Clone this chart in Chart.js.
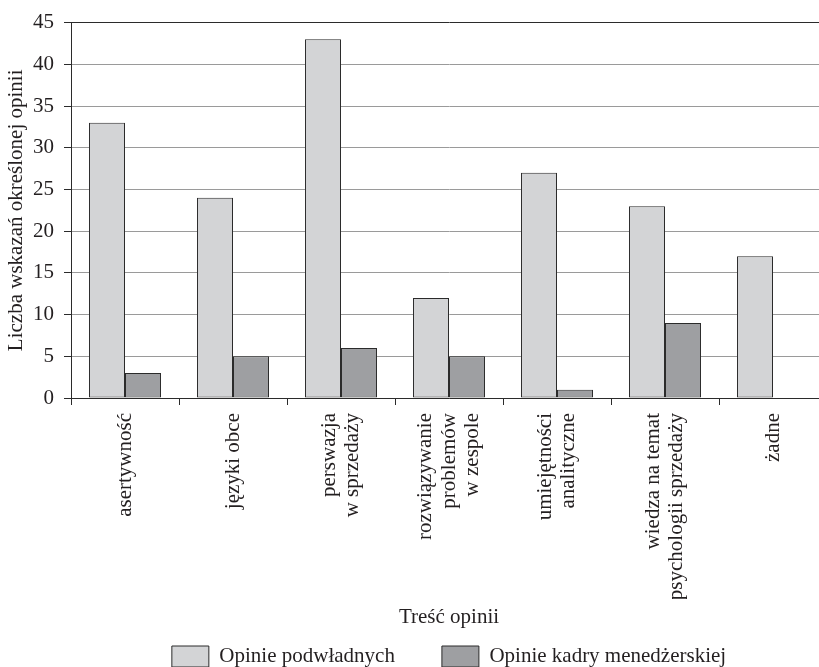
<!DOCTYPE html>
<html lang="pl">
<head>
<meta charset="utf-8">
<title>Liczba wskazań określonej opinii</title>
<script src="https://cdn.jsdelivr.net/npm/chart.js@4/dist/chart.umd.min.js"></script>
<style>
  html, body { margin: 0; padding: 0; background: #ffffff; overflow: hidden; }
  #wrap { width: 830px; height: 680px; }
</style>
</head>
<body>
<div id="wrap"><canvas id="chart" width="830" height="680"></canvas></div>
<script>
// Categories (multi-line labels as arrays)
const categories = [
  ['asertywność'],
  ['języki obce'],
  ['perswazja', 'w sprzedaży'],
  ['rozwiązywanie', 'problemów', 'w zespole'],
  ['umiejętności', 'analityczne'],
  ['wiedza na temat', 'psychologii sprzedaży'],
  ['żadne']
];

const seriesNames = ['Opinie podwładnych', 'Opinie kadry menedżerskiej'];
const opiniePodwladnych = [33, 24, 43, 12, 27, 23, 17];
const opinieKadry = [3, 5, 6, 5, 1, 9, 0];

const yMin = 0;
const yMax = 45;
const yStep = 5;

const axisTitleY = 'Liczba wskazań określonej opinii';
const axisTitleX = 'Treść opinii';

const serif = '"Liberation Serif", "Times New Roman", serif';
const ink = '#231f20';
const frame = '#2b2b2b';

Chart.defaults.font.family = serif;
Chart.defaults.font.size = 21;
Chart.defaults.color = ink;

// Rotated multi-line tick labels: centre the stack of lines on the category
const centerTickLines = {
  id: 'centerTickLines',
  beforeDraw(chart) {
    const scale = chart.scales.x;
    const items = scale.getLabelItems();
    if (items.centered) return;
    items.forEach(item => {
      const n = Array.isArray(item.label) ? item.label.length : 1;
      item.textOffset -= (n - 1) * item.font.lineHeight / 2;
    });
    items.centered = true;
  }
};

new Chart(document.getElementById('chart'), {
  type: 'bar',
  data: {
    labels: categories,
    datasets: [
      {
        label: seriesNames[0],
        data: opiniePodwladnych,
        backgroundColor: '#d3d4d6',
        borderColor: frame,
        borderWidth: 1,
        borderSkipped: false
      },
      {
        label: seriesNames[1],
        data: opinieKadry,
        backgroundColor: '#9e9fa2',
        borderColor: frame,
        borderWidth: 1,
        borderSkipped: false
      }
    ]
  },
  options: {
    responsive: false,
    animation: false,
    events: [],
    categoryPercentage: 0.667,
    barPercentage: 1.0,
    layout: { padding: { left: 0, right: 3, top: 18, bottom: 3 } },
    scales: {
      x: {
        offset: true,
        grid: {
          display: true,
          offset: true,
          drawOnChartArea: false,
          drawTicks: true,
          tickLength: 7,
          color: frame,
          tickColor: frame
        },
        border: { display: true, color: frame, width: 1 },
        ticks: {
          autoSkip: false,
          minRotation: 90,
          maxRotation: 90,
          padding: 8,
          color: ink,
          font: { family: serif, size: 21, lineHeight: 1.12 }
        },
        title: {
          display: true,
          text: axisTitleX,
          color: ink,
          font: { family: serif, size: 21 },
          padding: { top: 0, bottom: -31 }
        },
        afterFit(scale) { scale.height = 201; }
      },
      y: {
        min: yMin,
        max: yMax,
        ticks: {
          stepSize: yStep,
          padding: 10,
          color: ink,
          font: { family: serif, size: 21 }
        },
        grid: {
          drawTicks: true,
          tickLength: 7,
          color: ctx => (ctx.tick && ctx.tick.value === yMax) ? frame : '#9a9a9a',
          tickColor: frame
        },
        border: { display: true, color: frame, width: 1 },
        title: {
          display: true,
          text: axisTitleY,
          color: ink,
          font: { family: serif, size: 21 },
          padding: { top: 4, bottom: 0 }
        },
        afterFit(scale) { scale.width = 71; }
      }
    },
    plugins: {
      tooltip: { enabled: false },
      legend: {
        display: true,
        position: 'bottom',
        fullSize: false,
        labels: {
          boxWidth: 37,
          boxHeight: 21,
          padding: 47,
          color: ink,
          font: { family: serif, size: 21 }
        }
      }
    }
  },
  plugins: [centerTickLines]
});
</script>
</body>
</html>
